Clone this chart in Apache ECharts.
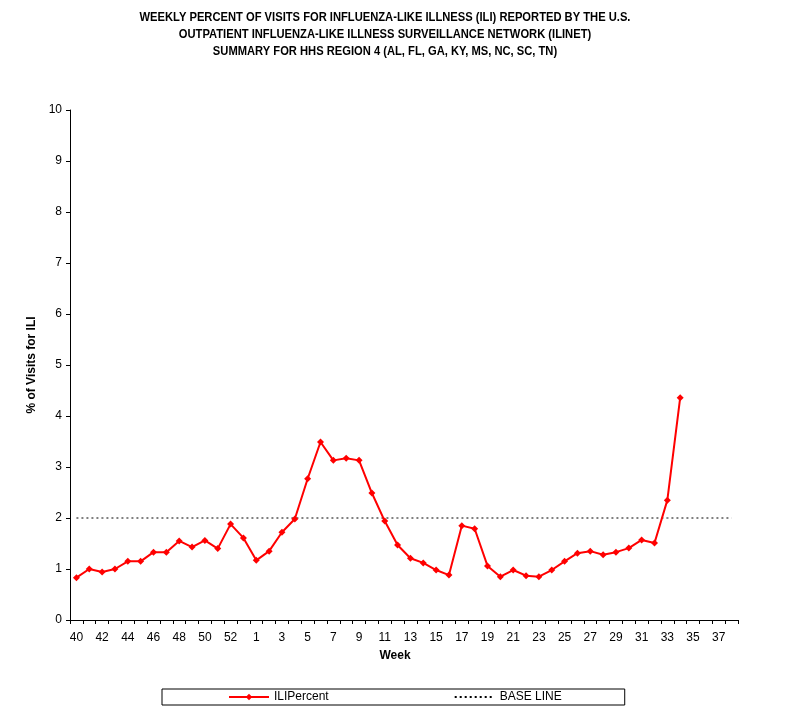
<!DOCTYPE html>
<html>
<head>
<meta charset="utf-8">
<script src="https://cdn.jsdelivr.net/npm/echarts@6/dist/echarts.min.js"></script>
<style>
  html, body { margin: 0; padding: 0; background: #fff; }
  #chart { width: 801px; height: 715px; }
</style>
</head>
<body>
<div id="chart"></div>
<script>
// Semanas de la temporada (40..53, luego 1..38)
const weeks = ['40','41','42','43','44','45','46','47','48','49','50','51','52','53',
  '1','2','3','4','5','6','7','8','9','10','11','12','13','14','15','16','17','18','19',
  '20','21','22','23','24','25','26','27','28','29','30','31','32','33','34','35','36','37','38'];

// Porcentaje semanal de visitas por ILI (semana 40 .. semana 34)
const iliPercent = [0.83, 1.00, 0.94, 1.00, 1.15, 1.15, 1.33, 1.33, 1.55, 1.43, 1.56, 1.40, 1.88, 1.61,
  1.17, 1.35, 1.72, 1.98, 2.77, 3.49, 3.13, 3.17, 3.13, 2.49, 1.94, 1.47, 1.21, 1.12, 0.98, 0.88,
  1.85, 1.79, 1.06, 0.85, 0.98, 0.87, 0.85, 0.98, 1.15, 1.31, 1.35, 1.28, 1.33, 1.41, 1.57, 1.51,
  2.35, 4.36];

const baseLineValue = 2.0;
const baseLine = weeks.map(() => baseLineValue);

const titleLines = [
  'WEEKLY PERCENT OF VISITS FOR INFLUENZA-LIKE ILLNESS (ILI) REPORTED BY THE U.S.',
  'OUTPATIENT INFLUENZA-LIKE ILLNESS SURVEILLANCE NETWORK (ILINET)',
  'SUMMARY FOR HHS REGION 4 (AL, FL, GA, KY, MS, NC, SC, TN)'
];

const font = 'Liberation Sans, Arial, sans-serif';

const myChart = echarts.init(document.getElementById('chart'));

const option = {
  animation: false,
  backgroundColor: '#fff',
  textStyle: { fontFamily: font, color: '#000' },
  // título en fuente "estrecha": texto real escalado en horizontal
  graphic: [
    {
      type: 'text',
      x: 385,
      y: 9,
      scaleX: 0.86,
      style: {
        text: titleLines.join('\n'),
        font: 'bold 13px ' + font,
        lineHeight: 17,
        align: 'center',
        verticalAlign: 'top',
        fill: '#000'
      }
    }
  ],
  grid: { left: 70, right: 63, top: 110, bottom: 95, containLabel: false },
  legend: {
    left: 162,
    top: 689,
    padding: [2, 63, 2, 66],
    itemGap: 125,
    itemWidth: 40,
    itemHeight: 8,
    borderColor: '#000',
    borderWidth: 1,
    textStyle: { fontFamily: font, fontSize: 12, color: '#000' },
    data: [
      'ILIPercent',
      { name: 'BASE LINE', itemStyle: { color: 'rgba(0,0,0,0)', borderWidth: 0 } }
    ]
  },
  xAxis: {
    type: 'category',
    data: weeks,
    boundaryGap: true,
    name: 'Week',
    nameLocation: 'middle',
    nameGap: 30,
    nameTextStyle: { fontFamily: font, fontWeight: 'bold', fontSize: 12, color: '#000', padding: [0, 18, 0, 0] },
    axisLine: { lineStyle: { color: '#000', width: 1 } },
    axisTick: { show: true, interval: 0, length: 4, lineStyle: { color: '#000' } },
    axisLabel: {
      interval: (index) => index % 2 === 0,
      fontFamily: font,
      fontSize: 12,
      color: '#000',
      margin: 12
    },
    splitLine: { show: false }
  },
  yAxis: {
    type: 'value',
    min: 0,
    max: 10,
    interval: 1,
    name: '% of Visits for ILI',
    nameLocation: 'middle',
    nameGap: 24,
    nameTextStyle: { fontFamily: font, fontWeight: 'bold', fontSize: 12, color: '#000' },
    axisLine: { show: true, lineStyle: { color: '#000', width: 1 } },
    axisTick: { show: true, length: 4, lineStyle: { color: '#000' } },
    axisLabel: { fontFamily: font, fontSize: 12, color: '#000', margin: 8 },
    splitLine: { show: false }
  },
  series: [
    {
      name: 'ILIPercent',
      type: 'line',
      data: iliPercent,
      symbol: 'diamond',
      symbolSize: 7,
      itemStyle: { color: '#ff0000' },
      lineStyle: { color: '#ff0000', width: 2 },
      z: 3
    },
    {
      name: 'BASE LINE',
      type: 'line',
      data: baseLine,
      symbol: 'none',
      itemStyle: { color: '#000' },
      lineStyle: { color: '#000', width: 1, type: [2, 3] },
      z: 2
    }
  ]
};

myChart.setOption(option);
</script>
</body>
</html>
